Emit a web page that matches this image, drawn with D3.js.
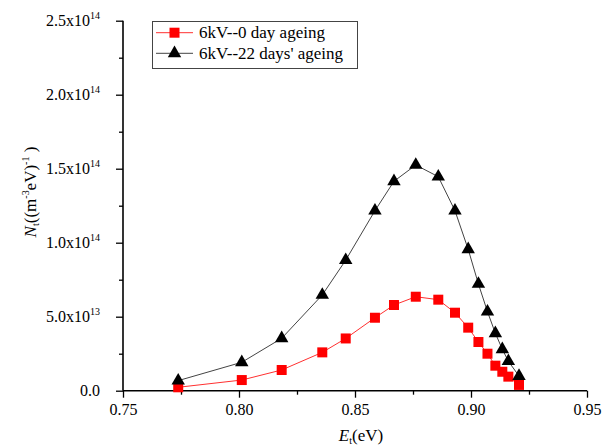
<!DOCTYPE html>
<html>
<head>
<meta charset="utf-8">
<script src="https://cdn.jsdelivr.net/npm/d3@7/dist/d3.min.js"></script>
<style>
  body { margin: 0; background: #fff; }
  svg { display: block; }
</style>
</head>
<body>
<svg id="chart" width="603" height="447"></svg>
<script>
// ---- data ----
const energy0 = [0.7738, 0.8012, 0.8184, 0.8359, 0.8460, 0.8586, 0.8668, 0.8762, 0.8859, 0.8931, 0.8988, 0.9032, 0.9071, 0.9105, 0.9135, 0.9161, 0.9207];
const nt0 = [0.023e14, 0.072e14, 0.140e14, 0.259e14, 0.353e14, 0.493e14, 0.579e14, 0.635e14, 0.615e14, 0.527e14, 0.426e14, 0.329e14, 0.250e14, 0.169e14, 0.128e14, 0.095e14, 0.039e14];
const energy22 = [0.7738, 0.8012, 0.8184, 0.8359, 0.8460, 0.8586, 0.8668, 0.8762, 0.8859, 0.8931, 0.8988, 0.9032, 0.9071, 0.9105, 0.9135, 0.9161, 0.9207];
const nt22 = [0.068e14, 0.192e14, 0.354e14, 0.647e14, 0.882e14, 1.216e14, 1.415e14, 1.525e14, 1.446e14, 1.216e14, 0.955e14, 0.721e14, 0.534e14, 0.388e14, 0.280e14, 0.199e14, 0.099e14];
const seriesNames = ["6kV--0 day ageing", "6kV--22 days' ageing"];
const xTicks = [0.75, 0.80, 0.85, 0.90, 0.95];
const yTicks = [0, 0.5e14, 1.0e14, 1.5e14, 2.0e14, 2.5e14];
const yTickMant = ["0.0", "5.0x10", "1.0x10", "1.5x10", "2.0x10", "2.5x10"];
const yTickExp = ["", "13", "14", "14", "14", "14"];

const FONT = "Liberation Serif";

// ---- layout ----
const svg = d3.select("#chart").style("font-family", FONT);
const x0 = 123, x1 = 587, yTop = 20.7, yBot = 390.7;
const x = d3.scaleLinear().domain([0.75, 0.95]).range([x0, x1]);
const y = d3.scaleLinear().domain([0, 2.5e14]).range([yBot, yTop]);

const xMinor = d3.range(0.775, 0.95, 0.05);
const yMinor = d3.range(0.25e14, 2.5e14, 0.5e14);

const gx = svg.append("g").attr("transform", `translate(0,${yBot})`);
gx.call(d3.axisBottom(x).tickValues(xTicks).tickFormat(d3.format(".2f")).tickSize(7).tickPadding(6));
gx.attr("font-family", null).attr("font-size", 16);
gx.append("g").call(d3.axisBottom(x).tickValues(xMinor).tickFormat("").tickSize(4)).select(".domain").remove();
gx.selectAll("line").attr("stroke", "#000").attr("stroke-width", 1.3);
gx.select(".domain").attr("stroke", "#000").attr("stroke-width", 1.6).attr("d", `M${x0},0H${x1}`);
gx.selectAll(".tick text").attr("font-size", 16).style("font-family", FONT).attr("dy", "0.71em");

const gy = svg.append("g").attr("transform", `translate(${x0},0)`);
gy.call(d3.axisLeft(y).tickValues(yTicks).tickFormat("").tickSize(7));
gy.attr("font-family", null);
gy.append("g").call(d3.axisLeft(y).tickValues(yMinor).tickFormat("").tickSize(4)).select(".domain").remove();
gy.selectAll("line").attr("stroke", "#000").attr("stroke-width", 1.3);
gy.select(".domain").attr("stroke", "#000").attr("stroke-width", 1.6).attr("d", `M0,${yTop}V${yBot}`);

yTicks.forEach((v, i) => {
  const t = svg.append("text")
    .attr("x", x0 - 23).attr("y", y(v) + 5)
    .attr("text-anchor", "end").attr("font-size", 16).style("font-family", FONT);
  t.append("tspan").text(yTickMant[i]);
  if (yTickExp[i]) {
    t.append("tspan").attr("font-size", 10).attr("dy", -7).text(yTickExp[i]);
  }
});

const xt = svg.append("text").attr("x", 361).attr("y", 441).attr("text-anchor", "middle").attr("font-size", 17).style("font-family", FONT);
xt.append("tspan").attr("font-style", "italic").text("E");
xt.append("tspan").attr("font-size", 10).attr("dy", 3).text("t");
xt.append("tspan").attr("dy", -3).text("(eV)");

const yt = svg.append("text").attr("transform", "translate(36,192) rotate(-90)").attr("text-anchor", "middle").attr("font-size", 17).style("font-family", FONT);
yt.append("tspan").attr("font-style", "italic").text("N");
yt.append("tspan").attr("font-size", 10).attr("dy", 3).text("t");
yt.append("tspan").attr("dy", -3).text("((m");
yt.append("tspan").attr("font-size", 10).attr("dy", -7).text("-3");
yt.append("tspan").attr("dy", 7).text("eV)");
yt.append("tspan").attr("font-size", 10).attr("dy", -7).text("-1");
yt.append("tspan").attr("dy", 7).text(" )");

// series
const data0 = energy0.map((e, i) => [e, nt0[i]]);
const data22 = energy22.map((e, i) => [e, nt22[i]]);
const line = d3.line().x(d => x(d[0])).y(d => y(d[1]));

svg.append("path").datum(data0).attr("d", line).attr("fill", "none").attr("stroke", "#ff3030").attr("stroke-width", 1);
svg.append("path").datum(data22).attr("d", line).attr("fill", "none").attr("stroke", "#444").attr("stroke-width", 1);

const sq = d3.symbol().type(d3.symbolSquare).size(100);
const tri = d3.symbol().type(d3.symbolTriangle).size(78);

svg.append("g").selectAll("path").data(data0).join("path")
  .attr("d", sq).attr("transform", d => `translate(${x(d[0])},${y(d[1])})`).attr("fill", "#ff0000");
svg.append("g").selectAll("path").data(data22).join("path")
  .attr("d", tri).attr("transform", d => `translate(${x(d[0])},${y(d[1])})`).attr("fill", "#000");

// legend
const lg = svg.append("g");
lg.append("rect").attr("x", 152.5).attr("y", 21.5).attr("width", 205).attr("height", 47)
  .attr("fill", "#fff").attr("stroke", "#444").attr("stroke-width", 1);
const rows = [
  { name: seriesNames[0], color: "#ff3030", fill: "#ff0000", sym: sq, yy: 32.7 },
  { name: seriesNames[1], color: "#444", fill: "#000", sym: tri, yy: 53.3 }
];
rows.forEach(r => {
  lg.append("line").attr("x1", 156).attr("x2", 193).attr("y1", r.yy).attr("y2", r.yy).attr("stroke", r.color).attr("stroke-width", 1);
  lg.append("path").attr("d", r.sym).attr("transform", `translate(174.5,${r.yy})`).attr("fill", r.fill);
  lg.append("text").attr("x", 199).attr("y", r.yy + 5.5).attr("font-size", 17).style("font-family", FONT).text(r.name);
});
</script>
</body>
</html>
